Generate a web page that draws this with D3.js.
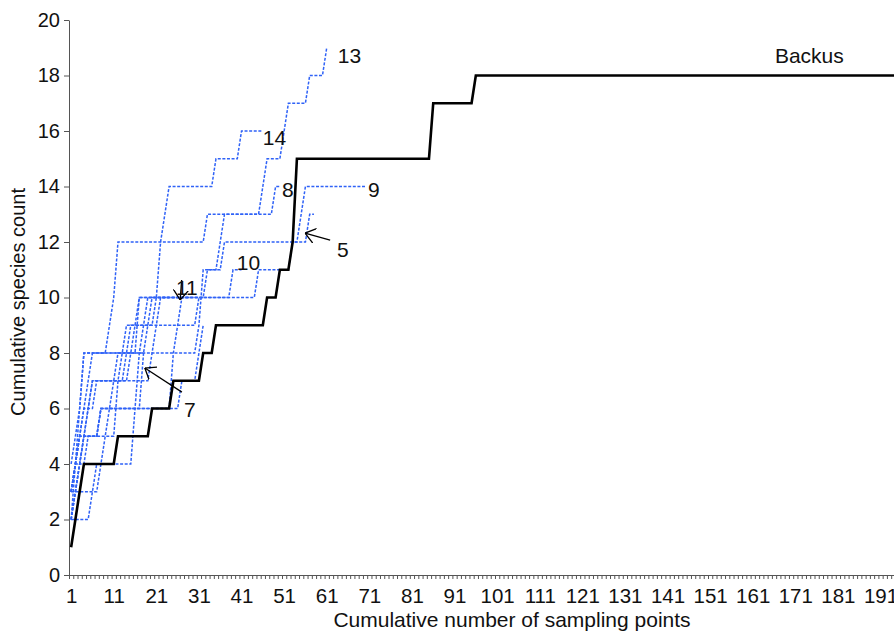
<!DOCTYPE html>
<html>
<head>
<meta charset="utf-8">
<script src="https://cdn.jsdelivr.net/npm/d3@7"></script>
<style>
  body { margin: 0; background: #fff; }
  svg { display: block; font-family: "Liberation Sans", Arial, sans-serif; }
</style>
</head>
<body>
<svg id="chart" width="894" height="639"></svg>
<script>
// cumulative species count per sampling point, Backus (solid black)
var backus = [
  1,2,3,4,4,4,4,4,4,4,4,5,5,5,5,5,5,5,5,6,
  6,6,6,6,7,7,7,7,7,7,7,8,8,8,9,9,9,9,9,9,
  9,9,9,9,9,9,10,10,10,11,11,11,12,15,15,15,15,15,15,15,
  15,15,15,15,15,15,15,15,15,15,15,15,15,15,15,15,15,15,15,15,
  15,15,15,15,15,17,17,17,17,17,17,17,17,17,17,18,18,18,18,18,
  18,18,18,18,18,18,18,18,18,18,18,18,18,18,18,18,18,18,18,18,
  18,18,18,18,18,18,18,18,18,18,18,18,18,18,18,18,18,18,18,18,
  18,18,18,18,18,18,18,18,18,18,18,18,18,18,18,18,18,18,18,18,
  18,18,18,18,18,18,18,18,18,18,18,18,18,18,18,18,18,18,18,18,
  18,18,18,18,18,18,18,18,18,18,18,18,18,18,18,18,18,18,18,18
];

// the other sites (blue dotted)
var site1 = [2,4,5,6,7,8,8,8,8,8,8,8,8,8,8,9,10,10,10,10,10,10,10,10];
var site2 = [3,4,4,5,6,6,7,7,7,7,7,7,7,8,9,9,9,9,9,9,10,10,10,10,10,10,10,10,10];
var site3 = [3,3,3,3,3,3,3,4,5,6,7,8,8,8,8,8,10,10,10,10,10,10,10,10,10,10,10,10,10,10,10,10];
var site5 = [3,4,5,5,5,5,5,5,5,5,5,7,8,9,9,9,9,9,9,9,9,9,9,9,9,9,9,9,9,9,
             10,10,11,11,11,11,12,12,12,12,12,12,12,12,12,12,12,12,12,12,12,12,12,12,12,12,13,13];
var site6 = [3,4,5,5,5,5,5,6,6,6,6,6,6,6,6,6,6,6,6,6,6,6,6,6,6,6,7,7,7,7,8,9];
var site7 = [2,3,4,5,5,5,5,6,6,6,6,6,6,6,6,6,6,8];
var site8 = [4,5,6,8,8,8,8,8,8,8,8,8,8,8,8,8,8,8,8,8,8,8,8,8,8,8,8,8,8,8,
             9,11,11,11,11,12,13,13,13,13,13,13,13,13,13,13,13,13,14,14];
var site9 = [2,2,2,2,2,3,4,4,4,4,4,4,4,4,4,6,8,9,10,10,10,10,10,10,10,10,10,10,10,10,
             10,10,10,10,10,10,10,10,10,10,10,10,10,10,11,11,11,11,11,11,11,11,12,12,13,
             14,14,14,14,14,14,14,14,14,14,14,14,14,14,14];
var site10 = [3,4,5,6,6,7,7,7,7,7,7,7,7,7,7,7,7,7,7,8,9,10,10,10,10,10,10,10,10,10,
              10,10,10,10,10,10,10,10,11,11,11];
var site11 = [2,3,4,4,5,5,5,6,6,6,6,6,6,6,6,6,6,6,6,6,6,6,6,6,8,9,10];
var site13 = [3,4,6,8,8,8,8,8,8,9,10,12,12,12,12,12,12,12,12,12,12,12,12,12,12,12,12,12,12,12,
              12,12,13,13,13,13,13,13,13,13,13,13,13,13,13,14,15,15,15,15,16,17,17,17,17,17,18,18,18,18,19];
var site14 = [2,3,4,5,6,7,7,7,7,7,7,7,7,7,8,8,8,8,9,10,10,12,13,14,14,14,14,14,14,14,
              14,14,14,14,15,15,15,15,15,15,16,16,16,16,16,16];

var sites = [site1, site2, site3, site5, site6, site7, site8, site9, site10, site11, site13, site14];

var nPoints = 200;
var yTicks = d3.range(0, 21, 2);
var xLabels = d3.range(1, 192, 10);

// text labels and arrows, in data units (sampling point, species count)
var labelText = ["Backus", "13", "14", "8", "9", "5", "10", "11", "7"];
var labelX = [166.2, 63.6, 46.0, 50.5, 70.7, 63.4, 39.9, 25.6, 27.5];
var labelY = [18.45, 18.45, 15.5, 13.62, 13.62, 11.46, 10.99, 10.09, 5.69];
var arrows = [
  [61.8, 12.07, 55.9, 12.32],
  [27.0, 6.59, 18.3, 7.46],
  [26.95, 10.63, 26.6, 9.91]
];

var svg = d3.select("#chart");
var plotLeft = 69, plotTop = 20, plotBottom = 575, step = 4.26;

var x = d3.scaleLinear()
  .domain([0.5, nPoints + 0.5])
  .range([plotLeft, plotLeft + nPoints * step]);
var y = d3.scaleLinear()
  .domain([0, 20])
  .range([plotBottom, plotTop]);

// x axis: a small tick between every sampling point, a label every 10th
svg.append("g")
  .attr("transform", "translate(0," + plotBottom + ")")
  .call(d3.axisBottom(x)
    .tickValues(d3.range(0.5, nPoints + 1, 1))
    .tickSize(4)
    .tickSizeOuter(0)
    .tickFormat(""))
  .call(g => g.select(".domain").attr("stroke", "#555"))
  .call(g => g.selectAll(".tick line").attr("stroke", "#555"));

svg.append("g")
  .attr("transform", "translate(0," + plotBottom + ")")
  .call(d3.axisBottom(x).tickValues(xLabels).tickSize(0).tickPadding(13.8))
  .call(g => g.select(".domain").remove())
  .selectAll("text")
  .attr("font-family", "Liberation Sans, Arial, sans-serif")
  .attr("font-size", 20.5)
  .attr("fill", "#111");

// y axis
svg.append("g")
  .attr("transform", "translate(" + plotLeft + ",0)")
  .call(d3.axisLeft(y).tickValues(yTicks).tickSize(5).tickPadding(4).tickSizeOuter(0))
  .call(g => g.select(".domain").attr("stroke", "#555"))
  .call(g => g.selectAll(".tick line").attr("stroke", "#555"))
  .selectAll("text")
  .attr("font-family", "Liberation Sans, Arial, sans-serif")
  .attr("font-size", 20)
  .attr("fill", "#111");

var line = d3.line()
  .x((d, i) => x(i + 1))
  .y(d => y(d));

// blue dotted sites
svg.append("g")
  .selectAll("path")
  .data(sites)
  .join("path")
  .attr("fill", "none")
  .attr("stroke", "#2f62f7")
  .attr("stroke-width", 1.5)
  .attr("stroke-dasharray", "3,1.6")
  .attr("d", line);

// Backus
svg.append("path")
  .datum(backus)
  .attr("fill", "none")
  .attr("stroke", "#000")
  .attr("stroke-width", 2.6)
  .attr("d", line);

// arrowhead
svg.append("defs").append("marker")
  .attr("id", "head")
  .attr("viewBox", "0 0 10 16")
  .attr("refX", 10)
  .attr("refY", 8)
  .attr("markerWidth", 10)
  .attr("markerHeight", 16)
  .attr("markerUnits", "userSpaceOnUse")
  .attr("orient", "auto")
  .append("path")
  .attr("d", "M0,0.5L10,8L0,15.5")
  .attr("fill", "none")
  .attr("stroke", "#000")
  .attr("stroke-width", 1.3);

svg.append("g")
  .selectAll("line")
  .data(arrows)
  .join("line")
  .attr("x1", d => x(d[0]))
  .attr("y1", d => y(d[1]))
  .attr("x2", d => x(d[2]))
  .attr("y2", d => y(d[3]))
  .attr("stroke", "#000")
  .attr("stroke-width", 1.3)
  .attr("marker-end", "url(#head)");

svg.append("g")
  .selectAll("text")
  .data(labelText)
  .join("text")
  .attr("x", (d, i) => x(labelX[i]))
  .attr("y", (d, i) => y(labelY[i]))
  .attr("font-size", 21)
  .attr("fill", "#111")
  .text(d => d);

// axis titles
svg.append("text")
  .attr("x", 512)
  .attr("y", 627)
  .attr("text-anchor", "middle")
  .attr("font-size", 21)
  .attr("fill", "#111")
  .text("Cumulative number of sampling points");

svg.append("text")
  .attr("transform", "translate(25,302) rotate(-90)")
  .attr("text-anchor", "middle")
  .attr("font-size", 20)
  .attr("fill", "#111")
  .text("Cumulative species count");
</script>
</body>
</html>
